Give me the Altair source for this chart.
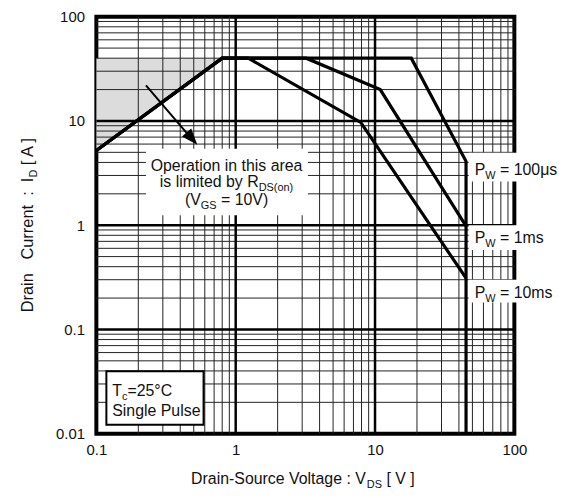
import re
import altair as alt
import pandas as pd

FONT = "Liberation Sans"

# ---------------- data ----------------
x_ticks = [0.1, 1, 10, 100]
y_ticks = [0.01, 0.1, 1, 10, 100]
x_major = [1, 10]
y_major = [0.1, 1, 10]
x_minor = [0.2, 0.3, 0.4, 0.5, 0.6, 0.7, 0.8, 0.9,
           2, 3, 4, 5, 6, 7, 8, 9,
           20, 30, 40, 50, 60, 70, 80, 90]
y_minor = [0.02, 0.03, 0.04, 0.05, 0.06, 0.07, 0.08, 0.09,
           0.2, 0.3, 0.4, 0.5, 0.6, 0.7, 0.8, 0.9,
           2, 3, 4, 5, 6, 7, 8, 9,
           20, 30, 40, 50, 60, 70, 80, 90]

# safe operating area curves (V_DS [V], I_D [A])
pw_names = ["100μs", "1ms", "10ms"]
v_100us = [0.1, 0.8, 18.2, 45, 45]
i_100us = [5.2, 40, 40, 4.1, 0.01]
v_1ms = [0.1, 0.8, 3.2, 10.9, 45]
i_1ms = [5.2, 40, 40, 20, 0.98]
v_10ms = [0.1, 0.8, 1.23, 7.9, 45]
i_10ms = [5.2, 40, 40, 9.7, 0.31]

# R_DS(on) limited region (shaded)
shade_v = [0.1, 0.8]
shade_lo = [5.2, 40]
shade_hi = [40, 40]

# arrow
arrow_v = [0.227, 0.48]
arrow_i = [21.9, 6.8]
arrow_tip = (0.53, 5.9)

# ---------------- helpers ----------------
AW = {' ': 278, '(': 333, ')': 333, '-': 333, '.': 278, ':': 278, '=': 584,
      '[': 278, ']': 278, '°': 400, 'μ': 576, 'µ': 576}
for c in "0123456789":
    AW[c] = 556
AW.update(dict(zip("ABCDEFGHIJKLMNOPQRSTUVWXYZ",
                   [667, 667, 722, 722, 667, 611, 778, 722, 278, 500, 667, 556, 833,
                    722, 778, 667, 778, 722, 667, 611, 722, 667, 944, 667, 667, 611])))
AW.update(dict(zip("abcdefghijklmnopqrstuvwxyz",
                   [556, 556, 500, 556, 556, 278, 556, 556, 222, 222, 500, 222, 833,
                    556, 556, 556, 556, 333, 500, 278, 556, 500, 722, 500, 500, 500])))


def tw(s, size):
    return sum(AW.get(c, 556) for c in s) * size / 1000.0


xs = alt.Scale(type="log", domain=[0.1, 100], nice=False)
ys = alt.Scale(type="log", domain=[0.01, 100], nice=False)
xax = alt.Axis(values=x_ticks, format="~g", title=None, grid=False, ticks=False,
               tickSize=0, domain=False, labelFont=FONT, labelFontSize=15,
               labelColor="#111111", labelPadding=9, labelFlush=False)
yax = alt.Axis(values=y_ticks, format="~g", title=None, grid=False, ticks=False,
               tickSize=0, domain=False, labelFont=FONT, labelFontSize=15,
               labelColor="#111111", labelPadding=12, labelFlush=False)


def X(f):
    return alt.X(f, type="quantitative", scale=xs, axis=xax)


def Y(f):
    return alt.Y(f, type="quantitative", scale=ys, axis=yax)


def XD(v):
    return alt.XDatum(v, type="quantitative", scale=xs, axis=xax)


def YD(v):
    return alt.YDatum(v, type="quantitative", scale=ys, axis=yax)


def rich(segs, xenc, yenc, center=False, angle=0):
    """segs: list of (text, fontsize, baseline shift)."""
    widths = [tw(t, s) for t, s, _ in segs]
    off = -sum(widths) / 2.0 if center else 0.0
    out = []
    for (t, s, sh), w in zip(segs, widths):
        # split into chunks so that no leading / multiple spaces are rendered
        for m in re.finditer(r"[^ ]+(?: [^ ]+)*", t):
            chunk = m.group(0)
            cx = off + tw(t[:m.start()], s)
            out.append(
                alt.Chart(pd.DataFrame({"t": [chunk]}))
                .mark_text(align="left", baseline="alphabetic", dx=cx, dy=sh,
                           fontSize=s, font=FONT, color="#111111", angle=angle)
                .encode(x=xenc, y=yenc, text="t:N")
            )
        off += w
    return out


layers = []

# shaded region
shade_df = pd.DataFrame({"v": shade_v, "lo": shade_lo, "hi": shade_hi})
layers.append(alt.Chart(shade_df).mark_area(color="#dcdcdc").encode(
    x=X("v"), y=Y("lo"), y2=alt.Y2("hi")))

# grid
layers.append(alt.Chart(pd.DataFrame({"v": x_minor})).mark_rule(
    color="#222222", strokeWidth=1).encode(x=X("v")))
layers.append(alt.Chart(pd.DataFrame({"i": y_minor})).mark_rule(
    color="#222222", strokeWidth=1).encode(y=Y("i")))
layers.append(alt.Chart(pd.DataFrame({"v": x_major})).mark_rule(
    color="black", strokeWidth=2.5).encode(x=X("v")))
layers.append(alt.Chart(pd.DataFrame({"i": y_major})).mark_rule(
    color="black", strokeWidth=2.5).encode(y=Y("i")))

# curves
rows = []
for name, vv, ii in [("100μs", v_100us, i_100us), ("1ms", v_1ms, i_1ms),
                     ("10ms", v_10ms, i_10ms)]:
    for k, (a, b) in enumerate(zip(vv, ii)):
        rows.append({"pw": name, "k": k, "v": a, "i": b})
curve_df = pd.DataFrame(rows)
layers.append(alt.Chart(curve_df).mark_line(
    color="black", strokeWidth=3.2, strokeJoin="miter").encode(
    x=X("v"), y=Y("i"), detail="pw:N", order="k:Q"))

# arrow
layers.append(alt.Chart(pd.DataFrame({"v": arrow_v, "i": arrow_i})).mark_line(
    color="black", strokeWidth=2).encode(x=X("v"), y=Y("i")))
layers.append(alt.Chart(pd.DataFrame({"v": [arrow_tip[0]], "i": [arrow_tip[1]]})).mark_point(
    shape="M0,0L0.75,2L-0.75,2Z", filled=True, color="black", opacity=1,
    size=270, angle=139).encode(x=X("v"), y=Y("i")))

# white boxes
box_df = pd.DataFrame({
    "v0": [0.227, 47, 47, 47],
    "v1": [3.3, 205, 205, 205],
    "i0": [5.41, 4.96, 1.0, 0.299],
    "i1": [1.245, 2.62, 0.578, 0.181],
})
layers.append(alt.Chart(box_df).mark_rect(color="white").encode(
    x=X("v0"), x2=alt.X2("v1"), y=Y("i0"), y2=alt.Y2("i1")))
# Tc box
layers.append(alt.Chart(pd.DataFrame({"v0": [0.118], "v1": [0.588], "i0": [0.0398], "i1": [0.0122]}))
              .mark_rect(fill="white", stroke="black", strokeWidth=2).encode(
    x=X("v0"), x2=alt.X2("v1"), y=Y("i0"), y2=alt.Y2("i1")))

# annotation text
layers += rich([("Operation in this area", 16, 0)], XD(0.86), YD(3.30), center=True)
layers += rich([("is limited by R", 16, 0), ("DS(on)", 11, 4)], XD(0.86), YD(2.30), center=True)
layers += rich([("(V", 16, 0), ("GS", 11, 4), (" = 10V)", 16, 0)], XD(0.86), YD(1.55), center=True)

# pulse width labels
for name, ib in zip(pw_names, [3.06, 0.675, 0.202]):
    layers += rich([("P", 16, 0), ("W", 11, 4), (" = " + name, 16, 0)], XD(51.9), YD(ib))

# Tc / single pulse
layers += rich([("T", 16, 0), ("c", 11, 4), ("=25°C", 16, 0)], XD(0.130), YD(0.0230))
layers += rich([("Single Pulse", 16, 0)], XD(0.130), YD(0.0148))

# axis titles
layers += rich([("Drain-Source Voltage : V", 16, 0), ("DS", 11, 4), (" [ V ]", 16, 0)],
               alt.value(208), alt.value(471), center=True)
layers += rich([("Drain   Current  :  I", 16.5, 0), ("D", 11, 4), (" [ A ]", 16.5, 0)],
               alt.value(-64), alt.value(209), center=True, angle=270)

chart = alt.layer(*layers).properties(
    width=421, height=420,
    autosize=alt.AutoSizeParams(type="none"),
    padding={"left": 89, "top": 7, "right": 50, "bottom": 62},
).configure_view(stroke="black", strokeWidth=4)

chart.save("out.html", embed_options={"renderer": "svg", "actions": False})
